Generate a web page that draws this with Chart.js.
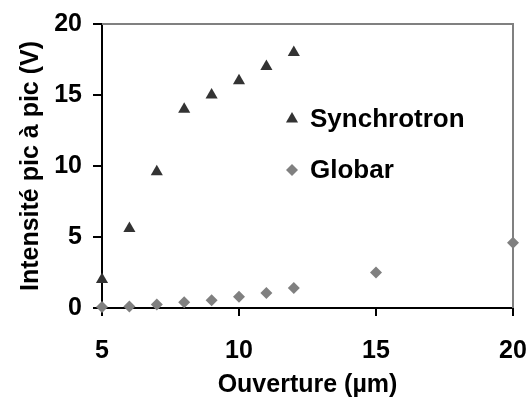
<!DOCTYPE html>
<html>
<head>
<meta charset="utf-8">
<script src="https://cdn.jsdelivr.net/npm/chart.js@4"></script>
<style>
  html, body { margin: 0; padding: 0; background: #fff; }
  #wrap { width: 529px; height: 403px; }
</style>
</head>
<body>
<div id="wrap"><canvas id="chart" width="529" height="403"></canvas></div>
<script>
// Data
const synchX = [5, 6, 7, 8, 9, 10, 11, 12];
const synchY = [2, 5.6, 9.6, 14, 15, 16, 17, 18];
const globarX = [5, 6, 7, 8, 9, 10, 11, 12, 15, 20];
const globarY = [0.07, 0.1, 0.25, 0.4, 0.55, 0.8, 1.05, 1.4, 2.5, 4.6];
const seriesNames = ['Synchrotron', 'Globar'];
const xTicks = [5, 10, 15, 20];
const yTicks = [0, 5, 10, 15, 20];

const FONT = '"Liberation Sans", Arial, sans-serif';
const toPoints = (xs, ys) => xs.map((x, i) => ({ x, y: ys[i] }));

// gray frame on top/right, legend drawn inside the plot
const framePlugin = {
  id: 'frame',
  beforeDatasetsDraw(chart) {
    const { ctx, chartArea: a } = chart;
    ctx.save();
    ctx.strokeStyle = '#808080';
    ctx.lineWidth = 2;
    ctx.beginPath();
    ctx.moveTo(a.left, a.top);
    ctx.lineTo(a.right, a.top);
    ctx.lineTo(a.right, a.bottom);
    ctx.stroke();
    ctx.restore();
  },
  afterDatasetsDraw(chart) {
    const { ctx, chartArea: a } = chart;
    ctx.save();
    ctx.font = 'bold 26px ' + FONT;
    ctx.textBaseline = 'middle';
    chart.data.datasets.forEach((ds, i) => {
      const mx = a.left + 190, my = a.top + 95 + i * 51;
      ctx.fillStyle = ds.backgroundColor;
      ctx.strokeStyle = ds.backgroundColor;
      Chart.helpers.drawPoint(ctx, { pointStyle: ds.pointStyle, radius: i === 0 ? 7 : 6, borderWidth: 0 }, mx, my);
      ctx.fillStyle = '#000';
      ctx.fillText(ds.label, mx + 18, my + 1);
    });
    ctx.restore();
  }
};

new Chart(document.getElementById('chart'), {
  type: 'scatter',
  data: {
    datasets: [
      {
        label: seriesNames[0],
        data: toPoints(synchX, synchY),
        pointStyle: 'triangle',
        pointRadius: 7,
        backgroundColor: '#333333',
        borderColor: '#333333',
        borderWidth: 0,
        clip: false
      },
      {
        label: seriesNames[1],
        data: toPoints(globarX, globarY),
        pointStyle: 'rectRot',
        pointRadius: 6,
        backgroundColor: '#808080',
        borderColor: '#808080',
        borderWidth: 0,
        clip: false
      }
    ]
  },
  options: {
    responsive: false,
    animation: false,
    layout: { padding: { top: 24, right: 16, left: 0, bottom: 0 } },
    plugins: { legend: { display: false }, tooltip: { enabled: false } },
    scales: {
      x: {
        type: 'linear',
        min: 5, max: 20,
        afterBuildTicks: s => { s.ticks = xTicks.map(v => ({ value: v })); },
        afterFit: s => { s.height = 95; s.paddingLeft = 0; s.paddingRight = 0; },
        ticks: { color: '#000', font: { family: FONT, size: 25, weight: 'bold' }, padding: 20 },
        grid: { drawOnChartArea: false, tickLength: 8, color: '#000', lineWidth: 2 },
        border: { color: '#000', width: 2 },
        title: { display: true, text: 'Ouverture (µm)', color: '#000', font: { family: FONT, size: 25, weight: 'bold' }, padding: { top: 0, bottom: 3 } }
      },
      y: {
        min: 0, max: 20,
        afterBuildTicks: s => { s.ticks = yTicks.map(v => ({ value: v })); },
        afterFit: s => { s.width = 102; s.paddingTop = 0; s.paddingBottom = 0; },
        ticks: { color: '#000', font: { family: FONT, size: 25, weight: 'bold' }, padding: 11 },
        grid: { drawOnChartArea: false, tickLength: 9, color: '#000', lineWidth: 2 },
        border: { color: '#000', width: 2 },
        title: { display: true, text: 'Intensité pic à pic (V)', color: '#000', font: { family: FONT, size: 25, weight: 'bold' }, padding: { top: 16, bottom: 0 } }
      }
    }
  },
  plugins: [framePlugin]
});
</script>
</body>
</html>
